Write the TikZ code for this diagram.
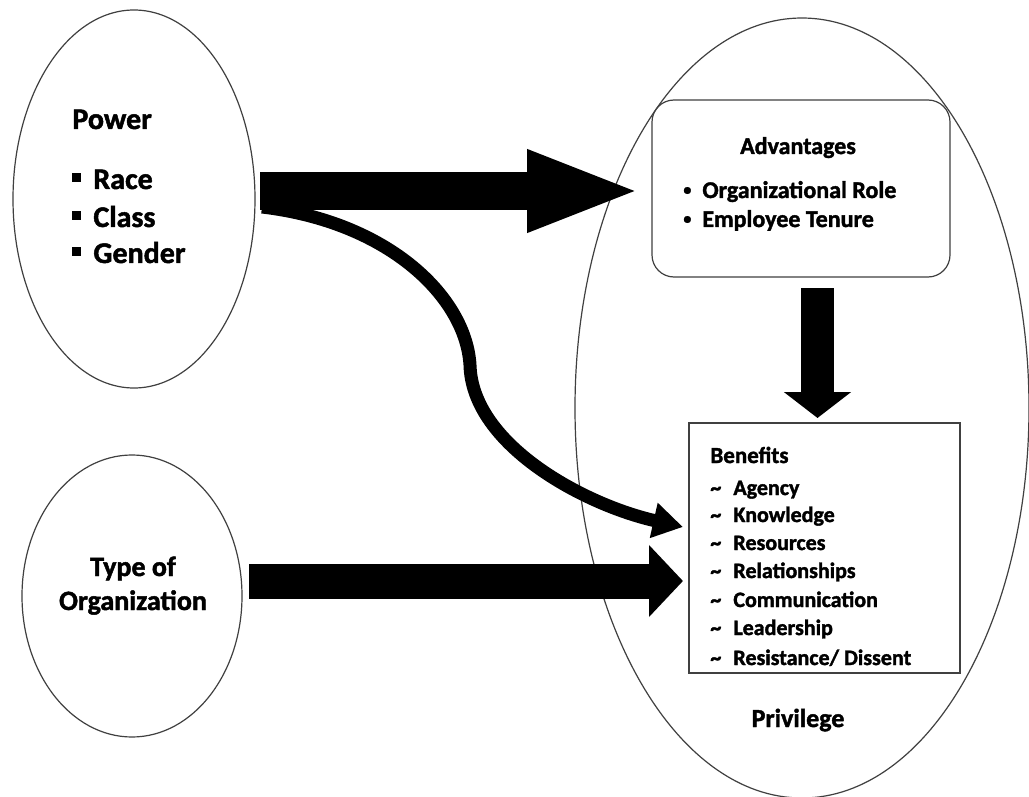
\documentclass[tikz,border=0pt]{standalone}
\usepackage{fontspec}
\setmainfont{Carlito}[BoldFeatures={FakeBold=1.6}]
\usetikzlibrary{shapes.geometric,arrows.meta}
\begin{document}
\begin{tikzpicture}[x=0.5pt,y=-0.5pt,
  outline/.style={draw=black!75,line width=0.6pt},
  oval/.style={ellipse,outline,inner sep=0pt},
  txt/.style={inner sep=0pt,font=\bfseries},
  blockarrow/.style n args={3}{draw=black,line width=#1,-{Triangle[length=#2,width=#3]}}
]
\useasboundingbox[fill=white] (0,0) rectangle (1029,797);

% ovals
\node[oval,minimum width=121pt,minimum height=189pt] (power) at (134,199) {};
\node[oval,minimum width=110pt,minimum height=141pt] (type) at (132,596) {};
\node[oval,minimum width=227pt,minimum height=390pt] (priv) at (802,408) {};

% boxes
\node[outline,rounded corners=11pt,minimum width=149pt,minimum height=88.5pt,inner sep=0pt] (adv) at (801,188.5) {};
\node[outline,minimum width=135.5pt,minimum height=125pt,inner sep=0pt] (ben) at (824.5,548) {};

% Power text
\node[txt,anchor=base west,font=\bfseries\fontsize{15}{17}\selectfont] (ptitle) at (72,129) {Power};
\node[txt,anchor=base west,font=\bfseries\fontsize{15}{17}\selectfont] (prace) at (72,189) {\rule[3.5pt]{4.5pt}{4.5pt}\hspace{6pt}Race};
\node[txt,anchor=base west,font=\bfseries\fontsize{15}{17}\selectfont] (pclass) at (72,227) {\rule[3.5pt]{4.5pt}{4.5pt}\hspace{6pt}Class};
\node[txt,anchor=base west,font=\bfseries\fontsize{15}{17}\selectfont] (pgender) at (72,263) {\rule[3.5pt]{4.5pt}{4.5pt}\hspace{6pt}Gender};

% Type of Organization text
\node[txt,anchor=base,font=\bfseries\fontsize{14}{16}\selectfont] (t1) at (133,576) {Type of};
\node[txt,anchor=base,font=\bfseries\fontsize{14}{16}\selectfont] (t2) at (133,610) {Organization};

% Advantages text
\node[txt,anchor=base,font=\bfseries\fontsize{12}{14}\selectfont] (atitle) at (798,154) {Advantages};
\node[txt,anchor=base west,font=\bfseries\fontsize{12}{14}\selectfont] (a1) at (683,198) {\makebox[9.5pt][l]{\raisebox{1.5pt}{\fontsize{8}{8}\selectfont•}}Organizational Role};
\node[txt,anchor=base west,font=\bfseries\fontsize{12}{14}\selectfont] (a2) at (683,227) {\makebox[9.5pt][l]{\raisebox{1.5pt}{\fontsize{8}{8}\selectfont•}}Employee Tenure};

% Benefits text
\node[txt,anchor=base west,font=\bfseries\fontsize{11.5}{13}\selectfont] (btitle) at (710,463) {Benefits};
\foreach \name/\yy/\lab in {b1/495/Agency,b2/522/Knowledge,b3/550/Resources,b4/578/Relationships,b5/607/Communication,b6/635/Leadership,b7/665/{Resistance/ Dissent}}{
  \node[txt,anchor=base west,font=\bfseries\fontsize{11}{13}\selectfont] (\name) at (710,\yy) {\makebox[11.5pt][l]{\textasciitilde}\lab};
}

% Privilege
\node[txt,anchor=base,font=\bfseries\fontsize{13}{15}\selectfont] (privlab) at (798,727) {Privilege};

% connector end points
\coordinate (s1) at (260,191);
\coordinate (e1) at (642,191);
\coordinate (s2) at (817.5,288);
\coordinate (e2) at (817.5,418);
\coordinate (s3) at (249,581);
\coordinate (e3) at (683,581);
\coordinate (s4) at (262,207);
\coordinate (e4) at (683,527);

% arrows
\draw[blockarrow={19pt}{57.5pt}{37pt}] (s1) -- (e1);
\draw[blockarrow={16.5pt}{13pt}{33pt}] (s2) -- (e2);
\draw[blockarrow={17.5pt}{17pt}{35pt}] (s3) -- (e3);
\draw[blockarrow={6.5pt}{15pt}{17pt}] (s4) .. controls (390,222) and (466,298) .. (470,365) .. controls (472,445) and (585,505) .. (e4);
\end{tikzpicture}
\end{document}
